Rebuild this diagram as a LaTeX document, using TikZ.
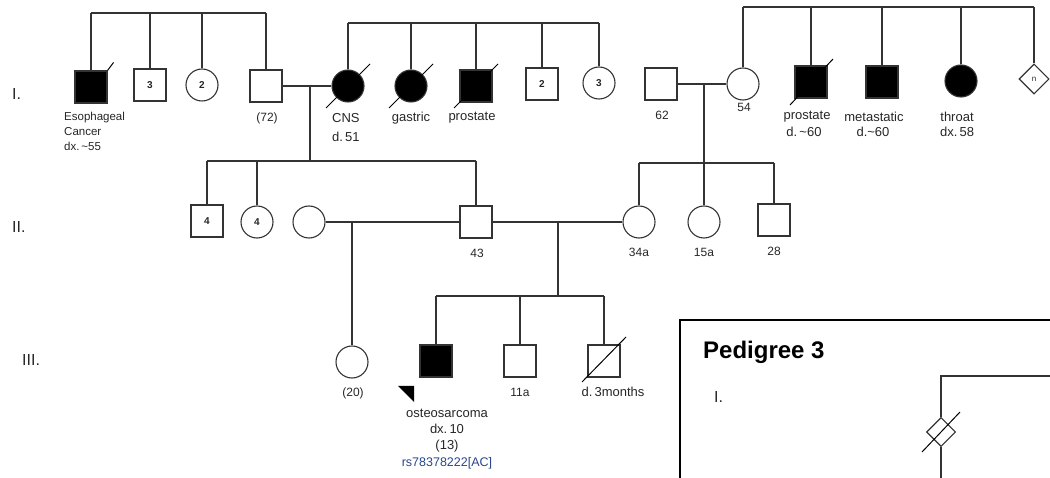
\documentclass[tikz,border=0pt]{standalone}
\usepackage{fontspec}
\setmainfont{Liberation Sans}
\usetikzlibrary{shapes.geometric,calc}
\colorlet{lc}{black!80}
\definecolor{rsblue}{RGB}{40,70,140}
\begin{document}
\begin{tikzpicture}[x=1pt,y=-1pt,
  ln/.style={draw=lc, line width=1.1pt},
  sl/.style={draw=black, line width=1pt},
  sym/.style={draw=lc, line width=1.1pt, minimum size=32pt, inner sep=0pt, text=black!85,
    font=\fontsize{10}{11}\selectfont\bfseries},
  male/.style={sym, rectangle},
  female/.style={sym, circle},
  unk/.style={sym, diamond, aspect=1, minimum size=30pt, font=\fontsize{8}{9}\selectfont},
  aff/.style={fill=black},
  lab/.style={inner sep=0pt, text=black!85, font=\fontsize{13}{15}\selectfont},
  num/.style={inner sep=0pt, text=black!85, font=\fontsize{12}{14}\selectfont},
  small/.style={inner sep=0pt, text=black!85, anchor=west, font=\fontsize{11.5}{13}\selectfont},
  gen/.style={inner sep=0pt, anchor=west, text=black!85, font=\fontsize{16}{18}\selectfont}]
\useasboundingbox (0,0) rectangle (1050,478);
\clip (0,0) rectangle (1050,478);

% generation labels
\node[gen] (g1) at (12,94) {I.};
\node[gen] (g2) at (12,227) {II.};
\node[gen] (g3) at (22,360) {III.};

% ---------- Generation I, left sibship ----------
\node[male,aff] (e1) at (91,87) {};
\node[male] (e2) at (150,85) {3};
\node[female] (e3) at (202,85) {2};
\node[male] (e4) at (266,86) {};
\coordinate (sA) at (0,13);
\draw[ln] (e1.north |- sA) -- (e4.north |- sA);
\foreach \n in {e1,e2,e3,e4} \draw[ln] (\n.north) -- (\n.north |- sA);
\draw[sl] (e1.north east) -- ++(6,-8);
\node[small] (le1) at (64,118) {Esophageal};
\node[small] (le2) at (64,132) {Cancer};
\node[small] (le3) at (64,146) {dx.\,\textasciitilde55};
\node[num] (le4) at (267,118) {(72)};

% ---------- Generation I, middle sibship ----------
\node[female,aff] (c1) at (348,86) {};
\node[female,aff] (c2) at (411,86) {};
\node[male,aff] (c3) at (476,86) {};
\node[male] (c4) at (542,84) {2};
\node[female] (c5) at (599,83) {3};
\coordinate (sM) at (0,23);
\draw[ln] (c1.north |- sM) -- (c5.north |- sM);
\foreach \n in {c1,c2,c3,c4,c5} \draw[ln] (\n.north) -- (\n.north |- sM);
\foreach \n in {c1,c2,c3} \draw[sl] ($(\n)+(-22,22)$) -- ($(\n)+(22,-22)$);
\node[lab,anchor=west] (lc1) at (332,118) {CNS};
\node[lab,anchor=west] (lc1b) at (332,137) {d.\,51};
\node[lab] (lc2) at (411,118) {gastric};
\node[lab] (lc3) at (472,118) {prostate};

% marriage I left
\draw[ln] (e4.east) -- (c1.west);
\coordinate (mA) at (310,86);
\coordinate (sB) at (0,161);

% ---------- Generation I, right ----------
\node[male] (r0) at (661,84) {};
\node[female] (r1) at (743,84) {};
\node[male,aff] (r2) at (811,82) {};
\node[male,aff] (r3) at (882,82) {};
\node[female,aff] (r4) at (961,81) {};
\node[unk] (r5) at (1034,79) {n};
\coordinate (sR) at (0,7);
\draw[ln] (r1.north |- sR) -- (r5.north |- sR);
\foreach \n in {r1,r2,r3,r4,r5} \draw[ln] (\n.north) -- (\n.north |- sR);
\draw[sl] ($(r2)+(-21,23)$) -- ($(r2)+(22,-23)$);
\node[num] (lr0) at (662,115) {62};
\node[num] (lr1) at (744,107) {54};
\node[lab] (lr2) at (807,117) {prostate};
\node[lab] (lr2b) at (804,132) {d.\,\textasciitilde60};
\node[lab] (lr3) at (874,117) {metastatic};
\node[lab] (lr3b) at (873,132) {d.\textasciitilde60};
\node[lab] (lr4) at (957,117) {throat};
\node[lab] (lr4b) at (957,132) {dx.\,58};
\draw[ln] (r0.east) -- (r1.west);
\coordinate (mB) at (704,84);
\coordinate (sC) at (0,163);

% ---------- Generation II ----------
\node[male] (s1) at (207,221) {4};
\node[female] (s2) at (257,222) {4};
\node[female] (sp) at (309,222) {};
\node[male] (s3) at (476,222) {};
\node[female] (t1) at (639,222) {};
\node[female] (t2) at (704,222) {};
\node[male] (t3) at (774,220) {};
\draw[ln] (s1.north |- sB) -- (s3.north |- sB);
\foreach \n in {s1,s2,s3} \draw[ln] (\n.north) -- (\n.north |- sB);
\draw[ln] (mA) -- (mA |- sB);
\draw[ln] (t1.north |- sC) -- (t3.north |- sC);
\foreach \n in {t1,t2,t3} \draw[ln] (\n.north) -- (\n.north |- sC);
\draw[ln] (mB) -- (mB |- sC);
\node[num] (ls3) at (477,253) {43};
\node[num] (lt1) at (639,252) {34a};
\node[num] (lt2) at (704,252) {15a};
\node[num] (lt3) at (774,251) {28};
\draw[ln] (sp.east) -- (s3.west);
\draw[ln] (s3.east) -- (t1.west);
\coordinate (mC) at (352,222);
\coordinate (mD) at (558,222);
\coordinate (sD) at (0,296);

% ---------- Generation III ----------
\node[female] (u0) at (352,362) {};
\node[male,aff] (u1) at (436,361) {};
\node[male] (u2) at (520,361) {};
\node[male] (u3) at (604,361) {};
\draw[ln] (mC) -- (u0.north);
\draw[ln] (mD) -- (mD |- sD);
\draw[ln] (u1.north |- sD) -- (u3.north |- sD);
\foreach \n in {u1,u2,u3} \draw[ln] (\n.north) -- (\n.north |- sD);
\draw[sl] ($(u3)+(-22,21)$) -- ($(u3)+(22,-24)$);
\fill[black] (398,386) -- (414,386) -- (414,402) -- cycle;
\node[num] (lu0) at (353,393) {(20)};
\node[lab] (lu1a) at (447,413) {osteosarcoma};
\node[lab] (lu1b) at (447,429) {dx.\,10};
\node[lab] (lu1c) at (447,446) {(13)};
\node[lab,text=rsblue,font=\fontsize{12.5}{14}\selectfont] (lu1d) at (447,463) {rs78378222[AC]};
\node[num] (lu2) at (520,392) {11a};
\node[lab] (lu3) at (613,392) {d.\,3months};

% ---------- inset: Pedigree 3 ----------
\draw[line width=2.4pt, draw=black, fill=white] (680,320) rectangle (1062,492);
\node[inner sep=0pt, anchor=west, font=\bfseries\fontsize{24}{26}\selectfont] (pg) at (703,352) {Pedigree 3};
\node[gen] (pgI) at (714,397) {I.};
\node[unk, minimum size=29pt] (q1) at (941,432) {};
\coordinate (q0) at (941,376);
\coordinate (q2) at (1060,376);
\coordinate (q3) at (941,485);
\draw[ln] (q2) -- (q0) -- (q1.north);
\draw[ln] (q1.south) -- (q3);
\draw[sl] (922,452) -- (960,412);
\end{tikzpicture}
\end{document}
